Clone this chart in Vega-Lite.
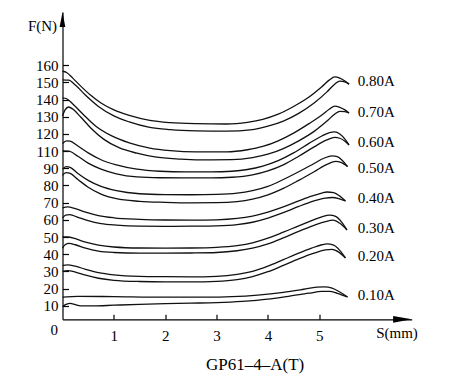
{
  "$schema": "https://vega.github.io/schema/vega-lite/v6.json",
  "width": 349.2,
  "height": 307.3,
  "autosize": "none",
  "padding": {"left": 62.5, "top": 12, "right": 51.3, "bottom": 63.7},
  "background": "white",
  "config": {"view": {"stroke": null}, "font": "Liberation Serif"},
  "title": {"text": "GP61–4–A(T)", "orient": "bottom", "anchor": "middle", "frame": "group", "dx": 18, "offset": 14, "font": "Liberation Serif", "fontSize": 17, "fontWeight": "normal", "color": "black"},
  "datasets": {
    "curves": [
      {"c":"0.80U","s":0,"F":146.5},{"c":"0.80U","s":0.08,"F":145.8},{"c":"0.80U","s":0.2,"F":142.5},{"c":"0.80U","s":0.35,"F":138},{"c":"0.80U","s":0.55,"F":132.5},{"c":"0.80U","s":0.75,"F":128},{"c":"0.80U","s":1.0,"F":124},{"c":"0.80U","s":1.3,"F":120.8},{"c":"0.80U","s":1.7,"F":117.9},{"c":"0.80U","s":2.1,"F":116.6},{"c":"0.80U","s":2.6,"F":116},{"c":"0.80U","s":3.2,"F":115.8},{"c":"0.80U","s":3.6,"F":116.8},{"c":"0.80U","s":3.9,"F":118.5},{"c":"0.80U","s":4.2,"F":121.5},{"c":"0.80U","s":4.5,"F":126},{"c":"0.80U","s":4.8,"F":131.5},{"c":"0.80U","s":5.05,"F":137.5},{"c":"0.80U","s":5.2,"F":141.5},{"c":"0.80U","s":5.3,"F":143.2},{"c":"0.80U","s":5.4,"F":142.5},{"c":"0.80U","s":5.5,"F":140.8},{"c":"0.80U","s":5.58,"F":139},
      {"c":"0.80L","s":0,"F":141.5},{"c":"0.80L","s":0.12,"F":141.3},{"c":"0.80L","s":0.25,"F":138.5},{"c":"0.80L","s":0.45,"F":132.5},{"c":"0.80L","s":0.7,"F":126},{"c":"0.80L","s":1.0,"F":120.5},{"c":"0.80L","s":1.3,"F":117},{"c":"0.80L","s":1.7,"F":113.8},{"c":"0.80L","s":2.1,"F":112.5},{"c":"0.80L","s":2.6,"F":111.8},{"c":"0.80L","s":3.2,"F":111.6},{"c":"0.80L","s":3.7,"F":112.5},{"c":"0.80L","s":4.0,"F":114.5},{"c":"0.80L","s":4.3,"F":117.5},{"c":"0.80L","s":4.6,"F":122},{"c":"0.80L","s":4.9,"F":128},{"c":"0.80L","s":5.15,"F":134.5},{"c":"0.80L","s":5.3,"F":139},{"c":"0.80L","s":5.4,"F":140.8},{"c":"0.80L","s":5.5,"F":140.3},{"c":"0.80L","s":5.58,"F":139},
      {"c":"0.70U","s":0,"F":131},{"c":"0.70U","s":0.08,"F":130.5},{"c":"0.70U","s":0.2,"F":127.5},{"c":"0.70U","s":0.4,"F":121.5},{"c":"0.70U","s":0.65,"F":114.5},{"c":"0.70U","s":0.95,"F":109},{"c":"0.70U","s":1.3,"F":104.8},{"c":"0.70U","s":1.7,"F":101.8},{"c":"0.70U","s":2.1,"F":100.3},{"c":"0.70U","s":2.6,"F":99.6},{"c":"0.70U","s":3.2,"F":99.6},{"c":"0.70U","s":3.6,"F":100.8},{"c":"0.70U","s":3.9,"F":102.7},{"c":"0.70U","s":4.2,"F":106},{"c":"0.70U","s":4.5,"F":110.5},{"c":"0.70U","s":4.8,"F":116},{"c":"0.70U","s":5.05,"F":121},{"c":"0.70U","s":5.2,"F":124.5},{"c":"0.70U","s":5.3,"F":126.2},{"c":"0.70U","s":5.4,"F":125.5},{"c":"0.70U","s":5.5,"F":124},{"c":"0.70U","s":5.58,"F":122.2},
      {"c":"0.70L","s":0,"F":120.5},{"c":"0.70L","s":0.05,"F":124},{"c":"0.70L","s":0.12,"F":125.7},{"c":"0.70L","s":0.2,"F":124.5},{"c":"0.70L","s":0.35,"F":120},{"c":"0.70L","s":0.55,"F":113.5},{"c":"0.70L","s":0.8,"F":107},{"c":"0.70L","s":1.1,"F":102},{"c":"0.70L","s":1.45,"F":98.8},{"c":"0.70L","s":1.8,"F":96.6},{"c":"0.70L","s":2.3,"F":95.4},{"c":"0.70L","s":2.9,"F":94.9},{"c":"0.70L","s":3.3,"F":95},{"c":"0.70L","s":3.7,"F":96.2},{"c":"0.70L","s":4.0,"F":98.2},{"c":"0.70L","s":4.3,"F":101.5},{"c":"0.70L","s":4.6,"F":106},{"c":"0.70L","s":4.9,"F":111.5},{"c":"0.70L","s":5.15,"F":117.5},{"c":"0.70L","s":5.3,"F":121.5},{"c":"0.70L","s":5.4,"F":123.2},{"c":"0.70L","s":5.5,"F":123},{"c":"0.70L","s":5.58,"F":122.2},
      {"c":"0.60U","s":0,"F":104.5},{"c":"0.60U","s":0.08,"F":106},{"c":"0.60U","s":0.15,"F":105.8},{"c":"0.60U","s":0.3,"F":103},{"c":"0.60U","s":0.5,"F":99},{"c":"0.60U","s":0.75,"F":95},{"c":"0.60U","s":1.05,"F":92},{"c":"0.60U","s":1.45,"F":89.5},{"c":"0.60U","s":1.9,"F":88.3},{"c":"0.60U","s":2.4,"F":87.9},{"c":"0.60U","s":2.9,"F":87.9},{"c":"0.60U","s":3.3,"F":88.3},{"c":"0.60U","s":3.6,"F":89.3},{"c":"0.60U","s":3.9,"F":91.3},{"c":"0.60U","s":4.2,"F":94.5},{"c":"0.60U","s":4.5,"F":99},{"c":"0.60U","s":4.8,"F":104.5},{"c":"0.60U","s":5.05,"F":108.8},{"c":"0.60U","s":5.2,"F":110.8},{"c":"0.60U","s":5.3,"F":111.2},{"c":"0.60U","s":5.4,"F":110},{"c":"0.60U","s":5.5,"F":107},{"c":"0.60U","s":5.58,"F":103.6},
      {"c":"0.60L","s":0,"F":100.1},{"c":"0.60L","s":0.12,"F":100},{"c":"0.60L","s":0.3,"F":97},{"c":"0.60L","s":0.5,"F":93},{"c":"0.60L","s":0.75,"F":89.5},{"c":"0.60L","s":1.05,"F":86.8},{"c":"0.60L","s":1.45,"F":85},{"c":"0.60L","s":1.9,"F":84.5},{"c":"0.60L","s":2.4,"F":84.4},{"c":"0.60L","s":2.9,"F":84.4},{"c":"0.60L","s":3.3,"F":84.8},{"c":"0.60L","s":3.7,"F":86.2},{"c":"0.60L","s":4.0,"F":88.5},{"c":"0.60L","s":4.3,"F":92},{"c":"0.60L","s":4.6,"F":97},{"c":"0.60L","s":4.9,"F":102.5},{"c":"0.60L","s":5.15,"F":106.5},{"c":"0.60L","s":5.3,"F":108},{"c":"0.60L","s":5.4,"F":107.5},{"c":"0.60L","s":5.5,"F":105.8},{"c":"0.60L","s":5.58,"F":103.6},
      {"c":"0.50U","s":0,"F":89.5},{"c":"0.50U","s":0.07,"F":91},{"c":"0.50U","s":0.15,"F":90.5},{"c":"0.50U","s":0.3,"F":87},{"c":"0.50U","s":0.5,"F":83},{"c":"0.50U","s":0.75,"F":79.5},{"c":"0.50U","s":1.05,"F":77},{"c":"0.50U","s":1.5,"F":75.2},{"c":"0.50U","s":2.0,"F":74.7},{"c":"0.50U","s":2.5,"F":74.6},{"c":"0.50U","s":3.0,"F":74.8},{"c":"0.50U","s":3.4,"F":75.5},{"c":"0.50U","s":3.7,"F":77},{"c":"0.50U","s":4.0,"F":79.5},{"c":"0.50U","s":4.3,"F":83.5},{"c":"0.50U","s":4.6,"F":88},{"c":"0.50U","s":4.9,"F":92.8},{"c":"0.50U","s":5.1,"F":96},{"c":"0.50U","s":5.25,"F":97.2},{"c":"0.50U","s":5.35,"F":96.8},{"c":"0.50U","s":5.45,"F":94.5},{"c":"0.50U","s":5.55,"F":91},
      {"c":"0.50L","s":0,"F":86},{"c":"0.50L","s":0.07,"F":87.5},{"c":"0.50L","s":0.15,"F":87},{"c":"0.50L","s":0.3,"F":83.5},{"c":"0.50L","s":0.5,"F":79},{"c":"0.50L","s":0.75,"F":75},{"c":"0.50L","s":1.05,"F":72.3},{"c":"0.50L","s":1.5,"F":70.8},{"c":"0.50L","s":2.0,"F":70.2},{"c":"0.50L","s":2.5,"F":69.9},{"c":"0.50L","s":3.0,"F":70},{"c":"0.50L","s":3.4,"F":70.6},{"c":"0.50L","s":3.7,"F":72},{"c":"0.50L","s":4.0,"F":74.5},{"c":"0.50L","s":4.3,"F":78.3},{"c":"0.50L","s":4.6,"F":83},{"c":"0.50L","s":4.9,"F":88},{"c":"0.50L","s":5.15,"F":92.3},{"c":"0.50L","s":5.32,"F":94},{"c":"0.50L","s":5.42,"F":93.5},{"c":"0.50L","s":5.55,"F":91},
      {"c":"0.40U","s":0,"F":67},{"c":"0.40U","s":0.1,"F":67.5},{"c":"0.40U","s":0.25,"F":66.5},{"c":"0.40U","s":0.45,"F":64.5},{"c":"0.40U","s":0.7,"F":62.5},{"c":"0.40U","s":1.0,"F":61.2},{"c":"0.40U","s":1.5,"F":60.3},{"c":"0.40U","s":2.0,"F":59.9},{"c":"0.40U","s":2.5,"F":59.8},{"c":"0.40U","s":3.0,"F":60},{"c":"0.40U","s":3.4,"F":60.8},{"c":"0.40U","s":3.7,"F":62.2},{"c":"0.40U","s":4.0,"F":64.5},{"c":"0.40U","s":4.3,"F":67.5},{"c":"0.40U","s":4.6,"F":71},{"c":"0.40U","s":4.85,"F":73.8},{"c":"0.40U","s":5.05,"F":75.6},{"c":"0.40U","s":5.15,"F":76.2},{"c":"0.40U","s":5.28,"F":75.8},{"c":"0.40U","s":5.4,"F":73.8},{"c":"0.40U","s":5.51,"F":71},
      {"c":"0.40L","s":0,"F":61},{"c":"0.40L","s":0.06,"F":62.8},{"c":"0.40L","s":0.14,"F":63},{"c":"0.40L","s":0.3,"F":61.5},{"c":"0.40L","s":0.5,"F":59.5},{"c":"0.40L","s":0.75,"F":57.8},{"c":"0.40L","s":1.05,"F":56.9},{"c":"0.40L","s":1.5,"F":56.3},{"c":"0.40L","s":2.0,"F":56.2},{"c":"0.40L","s":2.5,"F":56.3},{"c":"0.40L","s":3.0,"F":56.5},{"c":"0.40L","s":3.4,"F":57.2},{"c":"0.40L","s":3.7,"F":58.6},{"c":"0.40L","s":4.0,"F":61},{"c":"0.40L","s":4.3,"F":64.2},{"c":"0.40L","s":4.6,"F":67.8},{"c":"0.40L","s":4.9,"F":71},{"c":"0.40L","s":5.12,"F":72.7},{"c":"0.40L","s":5.25,"F":73},{"c":"0.40L","s":5.38,"F":72.4},{"c":"0.40L","s":5.51,"F":71},
      {"c":"0.30U","s":0,"F":50},{"c":"0.30U","s":0.1,"F":50},{"c":"0.30U","s":0.25,"F":49},{"c":"0.30U","s":0.45,"F":47},{"c":"0.30U","s":0.7,"F":45.3},{"c":"0.30U","s":1.0,"F":44.2},{"c":"0.30U","s":1.5,"F":43.6},{"c":"0.30U","s":2.0,"F":43.5},{"c":"0.30U","s":2.5,"F":43.6},{"c":"0.30U","s":3.0,"F":44},{"c":"0.30U","s":3.4,"F":45},{"c":"0.30U","s":3.7,"F":46.6},{"c":"0.30U","s":4.0,"F":49.3},{"c":"0.30U","s":4.3,"F":52.8},{"c":"0.30U","s":4.6,"F":56.5},{"c":"0.30U","s":4.85,"F":59.5},{"c":"0.30U","s":5.05,"F":61.8},{"c":"0.30U","s":5.2,"F":62.8},{"c":"0.30U","s":5.32,"F":62},{"c":"0.30U","s":5.44,"F":58.5},{"c":"0.30U","s":5.54,"F":54.1},
      {"c":"0.30L","s":0,"F":43.5},{"c":"0.30L","s":0.05,"F":45.5},{"c":"0.30L","s":0.13,"F":46.3},{"c":"0.30L","s":0.25,"F":45.5},{"c":"0.30L","s":0.45,"F":43.5},{"c":"0.30L","s":0.7,"F":41.8},{"c":"0.30L","s":1.0,"F":41},{"c":"0.30L","s":1.5,"F":40.6},{"c":"0.30L","s":2.0,"F":40.6},{"c":"0.30L","s":2.5,"F":40.7},{"c":"0.30L","s":3.0,"F":41},{"c":"0.30L","s":3.4,"F":42},{"c":"0.30L","s":3.7,"F":43.5},{"c":"0.30L","s":4.0,"F":46},{"c":"0.30L","s":4.3,"F":49.5},{"c":"0.30L","s":4.6,"F":53.3},{"c":"0.30L","s":4.9,"F":56.8},{"c":"0.30L","s":5.12,"F":59},{"c":"0.30L","s":5.27,"F":59.8},{"c":"0.30L","s":5.4,"F":58},{"c":"0.30L","s":5.54,"F":54.1},
      {"c":"0.20U","s":0,"F":33.5},{"c":"0.20U","s":0.1,"F":33.8},{"c":"0.20U","s":0.25,"F":33},{"c":"0.20U","s":0.45,"F":31.2},{"c":"0.20U","s":0.7,"F":29.3},{"c":"0.20U","s":1.0,"F":28},{"c":"0.20U","s":1.5,"F":27.1},{"c":"0.20U","s":2.0,"F":26.9},{"c":"0.20U","s":2.5,"F":26.8},{"c":"0.20U","s":3.0,"F":27.1},{"c":"0.20U","s":3.4,"F":28.2},{"c":"0.20U","s":3.7,"F":30},{"c":"0.20U","s":4.0,"F":33},{"c":"0.20U","s":4.3,"F":36.8},{"c":"0.20U","s":4.6,"F":40.6},{"c":"0.20U","s":4.85,"F":43.5},{"c":"0.20U","s":5.05,"F":45.5},{"c":"0.20U","s":5.15,"F":46},{"c":"0.20U","s":5.28,"F":45.3},{"c":"0.20U","s":5.4,"F":42.2},{"c":"0.20U","s":5.51,"F":37.8},
      {"c":"0.20L","s":0,"F":30},{"c":"0.20L","s":0.1,"F":30.4},{"c":"0.20L","s":0.25,"F":29.6},{"c":"0.20L","s":0.45,"F":27.8},{"c":"0.20L","s":0.7,"F":26},{"c":"0.20L","s":1.0,"F":24.8},{"c":"0.20L","s":1.5,"F":24.1},{"c":"0.20L","s":2.0,"F":23.9},{"c":"0.20L","s":2.5,"F":23.9},{"c":"0.20L","s":3.0,"F":24.2},{"c":"0.20L","s":3.4,"F":25.2},{"c":"0.20L","s":3.7,"F":27},{"c":"0.20L","s":4.0,"F":29.8},{"c":"0.20L","s":4.3,"F":33.5},{"c":"0.20L","s":4.6,"F":37.3},{"c":"0.20L","s":4.9,"F":40.6},{"c":"0.20L","s":5.12,"F":42.5},{"c":"0.20L","s":5.25,"F":42.8},{"c":"0.20L","s":5.38,"F":41.2},{"c":"0.20L","s":5.51,"F":37.8},
      {"c":"0.10U","s":0,"F":15},{"c":"0.10U","s":0.3,"F":15.5},{"c":"0.10U","s":1.0,"F":15.3},{"c":"0.10U","s":2.0,"F":15},{"c":"0.10U","s":2.8,"F":15},{"c":"0.10U","s":3.3,"F":15.3},{"c":"0.10U","s":3.8,"F":16.2},{"c":"0.10U","s":4.3,"F":17.8},{"c":"0.10U","s":4.7,"F":19.6},{"c":"0.10U","s":4.95,"F":20.8},{"c":"0.10U","s":5.1,"F":21},{"c":"0.10U","s":5.25,"F":20.3},{"c":"0.10U","s":5.4,"F":18},{"c":"0.10U","s":5.55,"F":15.1},
      {"c":"0.10L","s":0,"F":9.5},{"c":"0.10L","s":0.07,"F":10.8},{"c":"0.10L","s":0.15,"F":11.4},{"c":"0.10L","s":0.25,"F":10.6},{"c":"0.10L","s":0.35,"F":9.9},{"c":"0.10L","s":0.6,"F":9.9},{"c":"0.10L","s":1.0,"F":10.3},{"c":"0.10L","s":1.5,"F":10.8},{"c":"0.10L","s":2.0,"F":11.2},{"c":"0.10L","s":2.5,"F":11.5},{"c":"0.10L","s":3.0,"F":11.8},{"c":"0.10L","s":3.5,"F":12.5},{"c":"0.10L","s":4.0,"F":13.8},{"c":"0.10L","s":4.4,"F":15.5},{"c":"0.10L","s":4.8,"F":17.3},{"c":"0.10L","s":5.05,"F":18.3},{"c":"0.10L","s":5.2,"F":18.3},{"c":"0.10L","s":5.35,"F":17.2},{"c":"0.10L","s":5.55,"F":15.1}
    ],
    "labels": [
      {"label":"0.80A","s":5.75,"F":141.1},
      {"label":"0.70A","s":5.75,"F":123},
      {"label":"0.60A","s":5.75,"F":105.2},
      {"label":"0.50A","s":5.75,"F":90.4},
      {"label":"0.40A","s":5.75,"F":72.6},
      {"label":"0.30A","s":5.75,"F":55.4},
      {"label":"0.20A","s":5.75,"F":39},
      {"label":"0.10A","s":5.75,"F":16.2}
    ],
    "yarrow": [{"s":0,"F":176.6}],
    "xarrow": [{"s":6.62,"F":2.1}]
  },
  "encoding": {
    "x": {
      "field": "s", "type": "quantitative",
      "scale": {"domain": [0, 6.8], "nice": false, "zero": false},
      "axis": {
        "values": [0, 1, 2, 3, 4, 5],
        "grid": false,
        "domainColor": "black", "domainWidth": 1.2,
        "tickColor": "black", "tickWidth": 1.2,
        "tickSize": {"condition": {"test": "datum.value === 0", "value": 0}, "value": -5},
        "labelFont": "Liberation Serif", "labelFontSize": 15, "labelColor": "black",
        "labelAlign": {"condition": {"test": "datum.value === 0", "value": "right"}, "value": "center"},
        "labelOffset": {"condition": {"test": "datum.value === 0", "value": -5}, "value": 0},
        "labelPadding": {"condition": {"test": "datum.value === 0", "value": 3.5}, "value": 14},
        "title": "S(mm)",
        "titleFont": "Liberation Serif", "titleFontSize": 15, "titleFontWeight": "normal", "titleColor": "black",
        "titleX": 334, "titleY": 13, "titleAlign": "center", "titleBaseline": "middle"
      }
    },
    "y": {
      "field": "F", "type": "quantitative",
      "scale": {"domain": [2.1, 181], "nice": false, "zero": false},
      "axis": {
        "values": [10, 20, 30, 40, 50, 60, 70, 80, 90, 100, 110, 120, 130, 140, 150],
        "labelExpr": "datum.value < 95 ? datum.value : datum.value + 10",
        "grid": false,
        "domainColor": "black", "domainWidth": 1.2,
        "tickColor": "black", "tickWidth": 1.2, "tickSize": -6,
        "labelFont": "Liberation Serif", "labelFontSize": 15, "labelColor": "black",
        "labelPadding": 10.5,
        "title": "F(N)",
        "titleFont": "Liberation Serif", "titleFontSize": 15, "titleFontWeight": "normal", "titleColor": "black",
        "titleAngle": 0, "titleX": -20.5, "titleY": 13.8, "titleAlign": "center", "titleBaseline": "middle"
      }
    }
  },
  "layer": [
    {
      "data": {"name": "curves"},
      "mark": {"type": "line", "color": "#111", "strokeWidth": 1.3, "interpolate": "monotone"},
      "encoding": {"detail": {"field": "c", "type": "nominal"}}
    },
    {
      "data": {"name": "labels"},
      "mark": {"type": "text", "align": "left", "baseline": "middle", "font": "Liberation Serif", "fontSize": 15, "color": "black"},
      "encoding": {"text": {"field": "label", "type": "nominal"}}
    },
    {
      "data": {"name": "yarrow"},
      "mark": {"type": "point", "shape": "M-0.38,1L0,-1L0.38,1Z", "size": 225, "filled": true, "color": "black", "opacity": 1, "strokeWidth": 0}
    },
    {
      "data": {"name": "xarrow"},
      "mark": {"type": "point", "shape": "M-1,-0.36L1,0L-1,0.36Z", "size": 350, "filled": true, "color": "black", "opacity": 1, "strokeWidth": 0}
    }
  ]
}
